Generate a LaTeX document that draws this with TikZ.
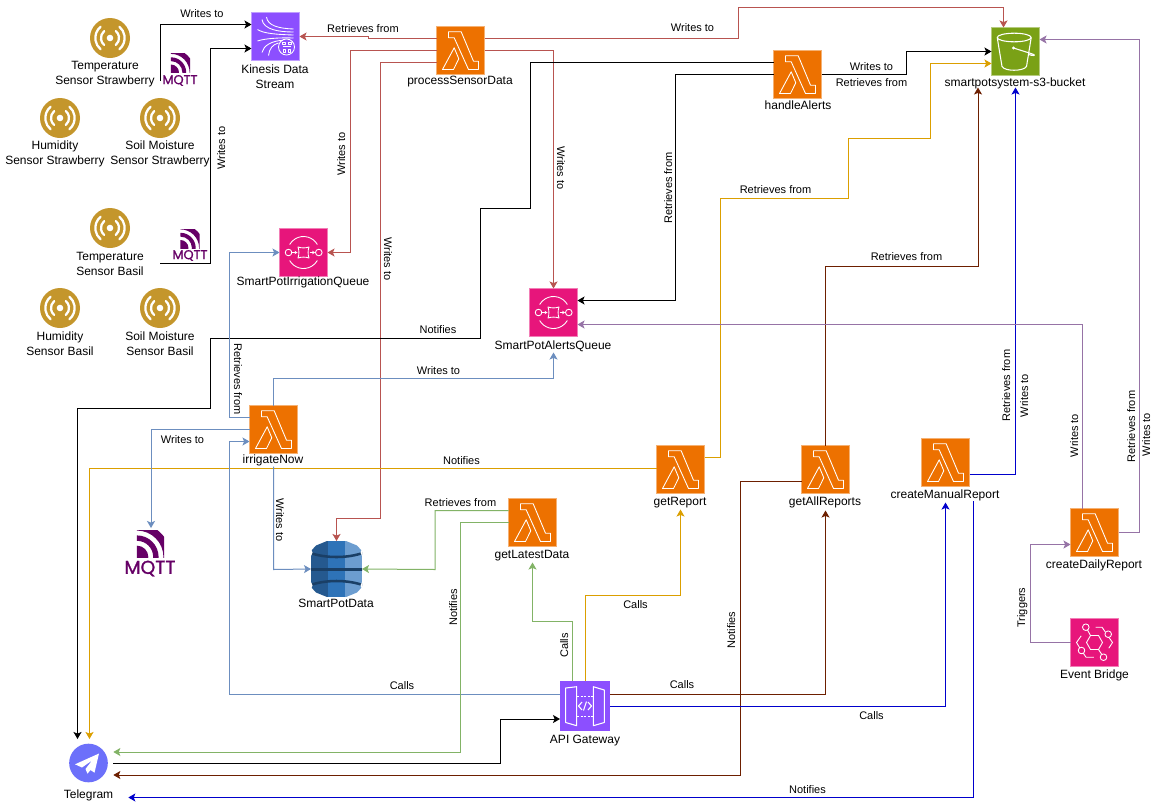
\documentclass[tikz,border=0pt]{standalone}
\usepackage{fontspec}
\setmainfont{Liberation Sans}
\newfontfamily\mqttfont[FakeBold=1.2]{Poppins}
\usetikzlibrary{arrows.meta,calc}
\definecolor{cred}{HTML}{B85450}
\definecolor{cblue}{HTML}{6C8EBF}
\definecolor{cgold}{HTML}{DB9F00}
\definecolor{cgreen}{HTML}{82B366}
\definecolor{cpurple}{HTML}{9673A6}
\definecolor{cbrown}{HTML}{6D1F00}
\definecolor{cnavy}{HTML}{0000CC}
\definecolor{lamorange}{HTML}{ED7100}
\definecolor{sqspink}{HTML}{E7157B}
\definecolor{awspurple}{HTML}{8C4FFF}
\definecolor{s3green}{HTML}{7AA116}
\definecolor{sensorgold}{HTML}{C4962C}
\definecolor{tgblue}{HTML}{6C70FA}
\definecolor{mqttpurple}{HTML}{660066}
\definecolor{ddbleft}{HTML}{25598F}
\definecolor{ddbmid}{HTML}{2E73B8}
\definecolor{ddbright}{HTML}{6C9DD0}
\definecolor{ddbband}{HTML}{1A3F66}
\tikzset{
  awsbox/.style={rectangle,minimum size=36pt,inner sep=0pt,outer sep=0pt,fill=#1,draw=#1!55!white,line width=0.75pt},
  sensorbox/.style={circle,minimum size=30pt,inner sep=0pt,outer sep=0pt,fill=sensorgold},
  txt/.style={inner sep=0pt,font=\fontsize{9}{11.25}\selectfont,text=black,align=center},
  lbl/.style={inner sep=0pt,font=\fontsize{8.25}{10}\selectfont,text=black,text height=6pt,text depth=0pt},
  conn/.style={line width=0.75pt,line join=miter},
  arr/.style={conn,-{Stealth[length=5.25pt,width=6pt,inset=1.2pt]}},
  icw/.style={draw=white,line width=0.65pt,line join=round,fill=none},
}
\newcommand\lamicon[1]{\begin{scope}[shift={(#1)}]\begin{scope}[shift={(-24,-24)}]
  \draw[icw] (12,5.3)--(24.7,5.3)--(37,34.7)--(42,34.7)--(42,43)--(32,43)--(17.7,11.3)--(12,11.3)--cycle;
  \draw[icw] (6,43)--(17.7,21.3)--(22.3,32.3)--(17,43)--cycle;
\end{scope}\end{scope}}
\newcommand\sensoricon[1]{\begin{scope}[shift={(#1)}]
  \fill[white] (0,0) circle[radius=3.3];
  \foreach \r in {6.8pt,11pt}{
    \draw[white,line width=1.7pt,line cap=round] ([shift={(-50:\r)}]0,0) arc[start angle=-50,end angle=50,radius=\r];
    \draw[white,line width=1.7pt,line cap=round] ([shift={(130:\r)}]0,0) arc[start angle=130,end angle=230,radius=\r];
  }
\end{scope}}
\newcommand\sqsicon[1]{\begin{scope}[shift={(#1)}]
  \draw[icw] ([shift={(30:12pt)}]0,0) arc[start angle=30,end angle=150,radius=12pt];
  \draw[icw] ([shift={(210:12pt)}]0,0) arc[start angle=210,end angle=330,radius=12pt];
  \draw[icw] (-15,0) circle[radius=3.3] (15.3,0) circle[radius=3.3];
  \draw[icw] (-5.5,-5.5) .. controls (-2,-4.3) and (2,-4.3) .. (5.5,-5.5) .. controls (4.3,-2) and (4.3,2) .. (5.5,5.5) .. controls (2,4.3) and (-2,4.3) .. (-5.5,5.5) .. controls (-4.3,2) and (-4.3,-2) .. cycle;
  \draw[icw,-{Stealth[length=2.2pt,width=2.6pt]}] (-11.5,0)--(-6,0);
  \draw[icw,-{Stealth[length=2.2pt,width=2.6pt]}] (6,0)--(11.6,0);
\end{scope}}
\newcommand\mqttarcs[3]{\begin{scope}
  \clip (#1-0.1,#2+0.1) rectangle (#1+#3,#2-#3);
  \fill[mqttpurple] (#1,#2) circle[radius=0.42*#3];
  \fill[mqttpurple,even odd rule] (#1,#2) circle[radius=0.60*#3] (#1,#2) circle[radius=0.80*#3];
  \fill[mqttpurple,even odd rule] (#1,#2) circle[radius=0.98*#3] (#1,#2) circle[radius=1.25*#3];
\end{scope}}
\begin{document}
\begin{tikzpicture}[x=0.75pt,y=-0.75pt]
\useasboundingbox (0,0) rectangle (1152,807);
\fill[white] (0,0) rectangle (1152,807);

% sensors
\node[sensorbox] (sTS) at (110,38) {};
\node[sensorbox] (sHS) at (60,118) {};
\node[sensorbox] (sSS) at (160,118) {};
\node[sensorbox] (sTB) at (110,228) {};
\node[sensorbox] (sHB) at (60,308) {};
\node[sensorbox] (sSB) at (160,308) {};
\foreach \s in {sTS,sHS,sSS,sTB,sHB,sSB}{\sensoricon{\s.center}}
\node[txt] at (105,74.3) {Temperature\\Sensor Strawberry};
\node[txt] at (55,154) {Humidity\\Sensor Strawberry};
\node[txt] at (160,154) {Soil Moisture\\Sensor Strawberry};
\node[txt] at (110,263.5) {Temperature\\Sensor Basil};
\node[txt] at (60,343.5) {Humidity\\Sensor Basil};
\node[txt] at (160,343.5) {Soil Moisture\\Sensor Basil};

% lambdas
\node[awsbox=lamorange] (pSD) at (460.5,50.5) {};
\node[awsbox=lamorange] (hA) at (797.5,74.5) {};
\node[awsbox=lamorange] (gR) at (680.5,469.5) {};
\node[awsbox=lamorange] (gLD) at (532.5,522.5) {};
\node[awsbox=lamorange] (gAR) at (825.5,469.5) {};
\node[awsbox=lamorange] (cMR) at (945.5,462.5) {};
\node[awsbox=lamorange] (cDR) at (1094.5,532.5) {};
\node[awsbox=lamorange] (iN) at (273.5,429.5) {};
\foreach \s in {pSD,hA,gR,gLD,gAR,cMR,cDR,iN}{\lamicon{\s.center}}
\node[txt,text height=6.5pt,text depth=0pt] at (460,80) {processSensorData};
\node[txt,text height=6.5pt,text depth=0pt] at (798,105.5) {handleAlerts};
\node[txt,text height=6.5pt,text depth=0pt] at (680,501) {getReport};
\node[txt,text height=6.5pt,text depth=0pt] at (532,554) {getLatestData};
\node[txt,text height=6.5pt,text depth=0pt] at (825,501) {getAllReports};
\node[txt,text height=6.5pt,text depth=0pt] at (945,494) {createManualReport};
\node[txt,text height=6.5pt,text depth=0pt] at (1094,564) {createDailyReport};
\node[txt,text height=6.5pt,text depth=0pt] at (273,459) {irrigateNow};

% SQS
\node[awsbox=sqspink] (iQ) at (303.5,252.5) {};
\node[awsbox=sqspink] (aQ) at (553.5,312.5) {};
\sqsicon{iQ.center}
\sqsicon{aQ.center}
\node[txt,text height=6.5pt,text depth=0pt] at (303,281) {SmartPotIrrigationQueue};
\node[txt,text height=6.5pt,text depth=0pt] at (553,345) {SmartPotAlertsQueue};

% Kinesis
\node[awsbox=awspurple] (kds) at (275.5,36.5) {};
\begin{scope}[shift={(kds.center)}]\begin{scope}[shift={(-24,-24)}]
  \draw[icw] (15,4.5) .. controls (16,13) and (27,16) .. (42,16.5);
  \draw[icw] (10.5,7) .. controls (12,17) and (27,19.5) .. (42,19.5);
  \draw[icw] (6,17) .. controls (12,21) and (25,22) .. (42,22.5);
  \draw[icw] (6,28.5) .. controls (13,26) and (28,25) .. (42,25.5);
  \draw[icw] (10.5,40) .. controls (12,33) and (20,28.5) .. (31,27.8);
  \draw[icw] (17,43) .. controls (18,36) and (21,32) .. (27,30.5);
  \draw[icw] (35,34.5) circle[radius=8];
  \draw[icw,line width=0.6pt] (31,29.5) rectangle (34,32) (36.5,29.5) rectangle (39.5,32) (31,34) -- (39.5,34) (31.5,37) rectangle (34,39.5) (36.5,37) rectangle (39,39.5);
\end{scope}\end{scope}
\node[txt] at (275,76.5) {Kinesis Data\\Stream};

% S3
\node[awsbox=s3green] (s3) at (1015.5,51.5) {};
\begin{scope}[shift={(s3.center)}]\begin{scope}[shift={(-24,-24)}]
  \draw[icw,line width=0.8pt] (22.7,10) ellipse[x radius=17,y radius=4.3];
  \draw[icw,line width=0.8pt] (5.7,10) -- (10.5,39) .. controls (13,44) and (32,44) .. (35,39) -- (39.7,10);
  \fill[white] (22,20.5) circle[radius=1.6];
  \draw[icw,line width=0.8pt] (22,20.5) -- (41,26.5) .. controls (44,27.5) and (43,28.5) .. (40,27.8) -- (37,27);
\end{scope}\end{scope}
\node[txt,text height=6.5pt,text depth=0pt] at (1015,82) {smartpotsystem-s3-bucket};

% API gateway
\node[rectangle,minimum size=37.5pt,inner sep=0pt,outer sep=0pt,fill=awspurple] (api) at (585,706) {};
\begin{scope}[shift={(api.center)}]\begin{scope}[shift={(-25,-25)}]
  \draw[icw,line width=0.8pt] (5.7,7)--(16.7,5.7)--(16.7,44.7)--(5.7,41.5)--cycle;
  \draw[icw,line width=0.8pt] (33.3,5.7)--(44.3,9)--(44.3,41.5)--(33.3,44.7)--cycle;
  \draw[icw,dash pattern=on 1.5pt off 1.2pt] (17,15.5)--(33,15.5) (17,35.5)--(33,35.5);
  \draw[icw,line width=0.8pt] (22,21)--(18.5,25)--(22,29) (28,21)--(31.5,25)--(28,29) (26.5,20.5)--(23.5,29.5);
\end{scope}\end{scope}
\node[txt,text height=6.5pt,text depth=0pt] at (585,739) {API Gateway};

% EventBridge
\node[awsbox=sqspink] (eb) at (1094.5,642.5) {};
\begin{scope}[shift={(eb.center)}]\begin{scope}[shift={(-24,-24)}]
  \draw[icw] (16,24)--(20,17)--(28,17)--(32,24)--(28,31)--(20,31)--cycle;
  \draw[icw] (15.3,8.7) circle[radius=3.3] (37.7,15.7) circle[radius=3.3] (11,32) circle[radius=3.3] (33,38.7) circle[radius=3.3];
  \draw[icw] (17,11.5)--(20,17) (28,31)--(31.3,36);
  \draw[icw] (25,8.7)--(31.5,8.7)--(34.8,13.5);
  \draw[icw] (38.5,19)--(42,24)--(38.3,29.7);
  \draw[icw] (10.7,17.3)--(6,24)--(9.3,29.5);
  \draw[icw] (12.8,34.7)--(15.5,38.7)--(23.3,38.7);
\end{scope}\end{scope}
\node[txt,text height=6.5pt,text depth=0pt] at (1094.5,674) {Event Bridge};

% DynamoDB
\node[rectangle,minimum width=38.25pt,minimum height=42pt,inner sep=0pt,outer sep=0pt] (ddb) at (336.5,569) {};
\begin{scope}
  \clip (327,541)--(346,541)--(357,545.5)--(362,551)--(362,587)--(357,592.5)--(346,597)--(327,597)--(316,592.5)--(311,587)--(311,551)--(316,545.5)--cycle;
  \fill[ddbleft] (311,541) rectangle (328,597);
  \fill[ddbmid] (328,541) rectangle (345,597);
  \fill[ddbright] (345,541) rectangle (362,597);
  \draw[ddbband,line width=1.9pt] (309,552.5) .. controls (325,558.5) and (348,558.5) .. (364,552.5);
  \draw[ddbband,line width=2.2pt] (309,569.5) -- (364,569.5);
  \draw[ddbband,line width=1.9pt] (309,585.5) .. controls (325,579.5) and (348,579.5) .. (364,585.5);
\end{scope}
\fill[white] (311,549) -- (312.5,552.5) -- (311,556) -- cycle (362,549) -- (360.5,552.5) -- (362,556) -- cycle;
\fill[white] (311,582) -- (312.5,585.5) -- (311,589) -- cycle (362,582) -- (360.5,585.5) -- (362,589) -- cycle;
\node[txt,text height=6.5pt,text depth=0pt] at (336,603) {SmartPotData};

% Telegram
\node[circle,minimum size=29pt,inner sep=0pt,outer sep=0pt,fill=tgblue] (tg) at (88.5,763) {};
\fill[white] ($(tg.center)+(10.5,-9.5)$) -- ($(tg.center)+(-13.5,1.3)$) -- ($(tg.center)+(-6.5,4.5)$) -- ($(tg.center)+(3.5,-2.5)$) -- ($(tg.center)+(-3,6)$) -- ($(tg.center)+(-1,10.7)$) -- ($(tg.center)+(2,7)$) -- ($(tg.center)+(6,9.7)$) -- cycle;
\node[txt,text height=6.5pt,text depth=0pt] at (88.5,794) {Telegram};

% MQTT
\node[inner sep=0pt,text=mqttpurple,font=\mqttfont\fontsize{9.6}{10}\selectfont] (mA) at (180,80.5) {MQTT};
\node[inner sep=0pt,text=mqttpurple,font=\mqttfont\fontsize{9.6}{10}\selectfont] (mB) at (190,255.5) {MQTT};
\node[inner sep=0pt,text=mqttpurple,font=\mqttfont\fontsize{14}{15}\selectfont] (mC) at (150,568.5) {MQTT};
\mqttarcs{171}{72.5}{19}
\mqttarcs{180.5}{248}{19}
\mqttarcs{137}{557}{27}

% connectors
\draw[arr,black] (160.5,81) -- (160.5,24.5) -- ($(kds.west)+(0,-12)$);
\draw[arr,black] (160,263.5) -- (210.5,263.5) -- (210.5,48.5) -- ($(kds.west)+(0,12)$);
\node[lbl] at (202,13) {Writes to};
\node[lbl,rotate=90] at (221,148) {Writes to};

\draw[arr,cred] ($(pSD.west)+(0,-12)$) -- (368,38.5) -- (368,36.5) -- (kds.east);
\draw[arr,cred] (pSD.west) -- (350.5,50.5) -- (350.5,252.5) -- (iQ.east);
\draw[arr,cred] ($(pSD.west)+(0,12)$) -- (380.5,62.5) -- (380.5,518.5) -- (336.5,518.5) -- (ddb.north);
\draw[arr,cred] ($(pSD.east)+(0,-12)$) -- (738,38.5) -- (738,7.5) -- (1003.5,7.5) -- ($(s3.north)+(-12,0)$);
\draw[arr,cred] (pSD.east) -- (553.5,50.5) -- (aQ.north);
\node[lbl] at (363,28) {Retrieves from};
\node[lbl,rotate=90] at (341,154) {Writes to};
\node[lbl,rotate=-90] at (388,259) {Writes to};
\node[lbl] at (692.5,27) {Writes to};
\node[lbl,rotate=-90] at (561,168) {Writes to};

\draw[arr,black] ($(hA.west)+(0,-12)$) -- (530.5,62.5) -- (530.5,208.5) -- (480.5,208.5) -- (480.5,338.5) -- (210.5,338.5) -- (210.5,408.5) -- (77.5,408.5) -- (77.5,739);
\draw[arr,black] (hA.west) -- (675.5,74.5) -- (675.5,300.5) -- ($(aQ.east)+(0,-12)$);
\draw[arr,black] (hA.east) -- (906.5,74.5) -- (906.5,51.5) -- (s3.west);
\node[lbl] at (438,329) {Notifies};
\node[lbl,rotate=90] at (668,188) {Retrieves from};
\node[lbl] at (871.5,66) {Writes to};
\node[lbl] at (871.5,82) {Retrieves from};

\draw[arr,cgold] ($(gR.east)+(0,-12)$) -- (720.5,457.5) -- (720.5,198.5) -- (848.5,198.5) -- (848.5,138.5) -- (930.5,138.5) -- (930.5,63.5) -- ($(s3.west)+(0,12)$);
\draw[arr,cgold] ($(gR.west)+(0,-1)$) -- (89.5,468.5) -- (89.5,739);
\node[lbl] at (775.5,189) {Retrieves from};
\node[lbl] at (461.5,460) {Notifies};

\draw[arr,cbrown] (gAR.north) -- (825.5,266) -- (978,266) -- (978,87.5);
\draw[arr,cbrown] ($(gAR.west)+(0,12)$) -- (740.5,481.5) -- (740.5,775) -- ($(tg.east)+(5.5,12)$);
\node[lbl] at (906.5,256) {Retrieves from};
\node[lbl,rotate=90] at (731,630) {Notifies};

\draw[arr,cnavy] ($(cMR.east)+(0,12)$) -- (1015.5,474.5) -- ($(s3.south)+(0,12)$);
\draw[arr,cnavy] (973,501) -- (973,797.5) -- ($(tg.east)+(20.5,34.5)$);
\node[lbl,rotate=90] at (1006,385.5) {Retrieves from};
\node[lbl,rotate=90] at (1024,395.5) {Writes to};
\node[lbl] at (807.5,789) {Notifies};

\draw[arr,cpurple] ($(cDR.north)+(-12,0)$) -- (1082.5,324.5) -- ($(aQ.east)+(0,12)$);
\draw[arr,cpurple] (cDR.east) -- (1139.5,532.5) -- (1139.5,39.5) -- ($(s3.east)+(0,-12)$);
\draw[arr,cpurple] (eb.west) -- (1030.5,642.5) -- (1030.5,544.5) -- ($(cDR.west)+(0,12)$);
\node[lbl,rotate=90] at (1074,435.5) {Writes to};
\node[lbl,rotate=90] at (1131,426.5) {Retrieves from};
\node[lbl,rotate=90] at (1146,434.5) {Writes to};
\node[lbl,rotate=90] at (1021,607.5) {Triggers};

\draw[arr,cblue] ($(iN.west)+(0,-12)$) -- (229.5,417.5) -- (229.5,252.5) -- (iQ.west);
\draw[arr,cblue] (iN.north) -- (273.5,378.5) -- (553.5,378.5) -- ($(aQ.south)+(0,16)$);
\draw[arr,cblue] (iN.west) -- (151,429.5) -- (151,528);
\draw[arr,cblue] ($(iN.south)+(0,13)$) -- (273.5,569.5) -- (ddb.west);
\draw[arr,cblue] (560,694) -- (229.5,694) -- (229.5,441.5) -- ($(iN.west)+(0,12)$);
\node[lbl,rotate=-90] at (238,379) {Retrieves from};
\node[lbl] at (438.5,370) {Writes to};
\node[lbl] at (182.5,439) {Writes to};
\node[lbl,rotate=-90] at (280,520) {Writes to};
\node[lbl] at (402,685) {Calls};

\draw[arr,cgreen] ($(api.north)+(-12.5,0)$) -- (572.5,621.5) -- (532.5,621.5) -- ($(gLD.south)+(0,16)$);
\draw[arr,cgold] (api.north) -- (585,595) -- (680.5,595) -- ($(gR.south)+(0,16)$);
\draw[arr,cbrown] (610,694) -- (825.5,694) -- ($(gAR.south)+(0,17)$);
\draw[arr,cnavy] ($(api.east)+(0,0.5)$) -- (945.5,706.5) -- ($(cMR.south)+(0,16)$);
\node[lbl,rotate=90] at (564,645.5) {Calls};
\node[lbl] at (635.5,604) {Calls};
\node[lbl] at (682,684) {Calls};
\node[lbl] at (871.5,715) {Calls};

\draw[arr,cgreen] ($(gLD.west)+(0,-12)$) -- (435,510.5) -- (435,569.5) -- (ddb.east);
\draw[arr,cgreen] (gLD.west) -- (460.5,522.5) -- (460.5,752) -- ($(tg.east)+(5.5,-11)$);
\node[lbl] at (460.5,502) {Retrieves from};
\node[lbl,rotate=90] at (453,607.5) {Notifies};

\draw[arr,black] ($(tg.east)+(5.5,0.5)$) -- (500.5,763.5) -- (500.5,719) -- (560,719);
\end{tikzpicture}
\end{document}
